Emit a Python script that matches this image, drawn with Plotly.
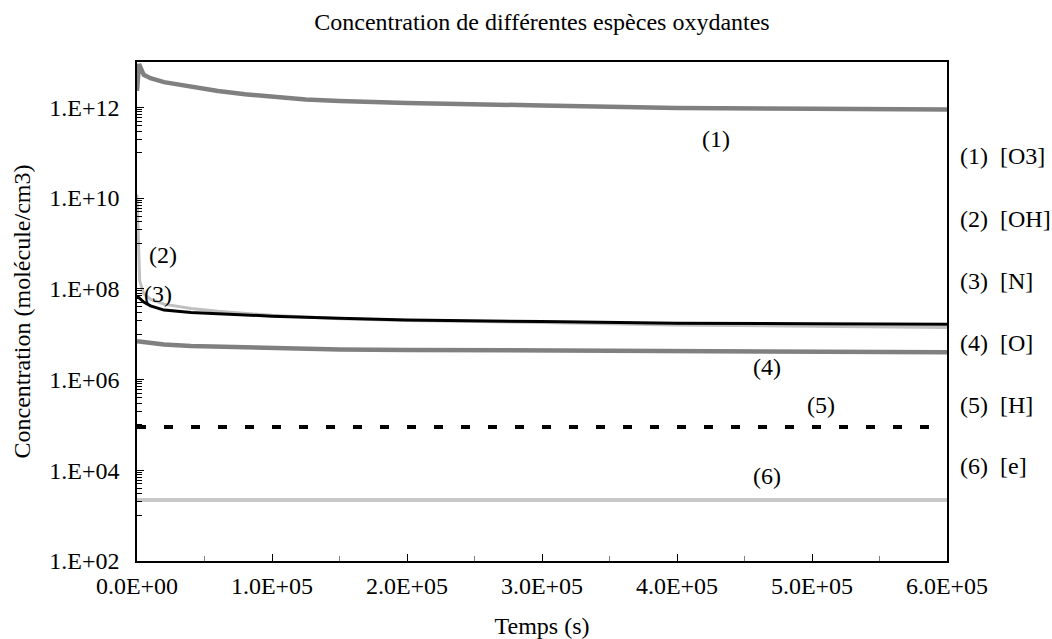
import plotly.graph_objects as go

# ---- data ----
t_o3 = [0, 1500, 5000, 10000, 20000, 40000, 60000, 80000, 100000, 125000, 150000, 200000, 300000, 400000, 500000, 600000]
o3 = [2.3e12, 9.0e12, 5.2e12, 4.4e12, 3.6e12, 2.8e12, 2.3e12, 1.95e12, 1.7e12, 1.5e12, 1.38e12, 1.25e12, 1.1e12, 0.97e12, 0.93e12, 0.9e12]

t_oh = [0, 1000, 2000, 5000, 10000, 20000, 40000, 60000, 100000, 150000, 200000, 300000, 400000, 500000, 600000]
oh = [1.2e10, 6.0e8, 1.5e8, 7.7e7, 5.9e7, 4.6e7, 3.7e7, 3.2e7, 2.6e7, 2.2e7, 2.0e7, 1.8e7, 1.6e7, 1.5e7, 1.4e7]

t_n = [0, 5000, 10000, 20000, 40000, 60000, 100000, 150000, 200000, 300000, 400000, 500000, 600000]
n = [7.0e7, 5.1e7, 4.2e7, 3.4e7, 3.0e7, 2.8e7, 2.5e7, 2.25e7, 2.05e7, 1.9e7, 1.75e7, 1.7e7, 1.65e7]

t_o = [0, 10000, 20000, 40000, 60000, 100000, 150000, 200000, 300000, 400000, 500000, 600000]
o = [7.0e6, 6.3e6, 5.9e6, 5.5e6, 5.3e6, 5.0e6, 4.6e6, 4.5e6, 4.4e6, 4.2e6, 4.2e6, 4.0e6]

t_const = [0, 600000]
h = [9.0e4, 9.0e4]
e = [2.2e3, 2.2e3]

x_tickvals = [0, 100000, 200000, 300000, 400000, 500000, 600000]
x_ticktext = ["0.0E+00", "1.0E+05", "2.0E+05", "3.0E+05", "4.0E+05", "5.0E+05", "6.0E+05"]
y_tickvals = [1e2, 1e4, 1e6, 1e8, 1e10, 1e12]
y_ticktext = ["1.E+02", "1.E+04", "1.E+06", "1.E+08", "1.E+10", "1.E+12"]

curve_labels = ["(1)", "(2)", "(3)", "(4)", "(5)", "(6)"]
species = ["[O3]", "[OH]", "[N]", "[O]", "[H]", "[e]"]

FONT = "Liberation Serif, Times New Roman, serif"
FS = 24

fig = go.Figure()
fig.add_trace(go.Scatter(x=t_o3, y=o3, mode="lines", line=dict(color="#808080", width=4.5), name="[O3]"))
fig.add_trace(go.Scatter(x=t_oh, y=oh, mode="lines", line=dict(color="#c0c0c0", width=3), name="[OH]"))
fig.add_trace(go.Scatter(x=t_n, y=n, mode="lines", line=dict(color="#000000", width=3), name="[N]"))
fig.add_trace(go.Scatter(x=t_o, y=o, mode="lines", line=dict(color="#808080", width=4.5), name="[O]"))
fig.add_trace(go.Scatter(x=t_const, y=h, mode="lines", line=dict(color="#000000", width=4, dash="9px,18px"), name="[H]"))
fig.add_trace(go.Scatter(x=t_const, y=e, mode="lines", line=dict(color="#c8c8c8", width=4), name="[e]"))

# labels near curves (x in data units, y in log10 units)
label_pos = [(429000, 11.31), (19300, 8.75), (15600, 7.88), (467000, 6.27), (507000, 5.43), (467000, 3.88)]
for txt, (lx, ly) in zip(curve_labels, label_pos):
    fig.add_annotation(x=lx, y=ly, xref="x", yref="y", text=txt, showarrow=False,
                       font=dict(family=FONT, size=FS, color="black"))

# right-side key
key_y = [0.8116, 0.6854, 0.5611, 0.4369, 0.3126, 0.1904]
for lab, sp, ky in zip(curve_labels, species, key_y):
    fig.add_annotation(x=1.014, y=ky, xref="paper", yref="paper", xanchor="left", yanchor="middle",
                       text=lab + "\u00a0\u00a0" + sp, showarrow=False,
                       font=dict(family=FONT, size=FS, color="black"))

minor_y = []
for k in [3, 5, 7, 9, 11]:
    for m in range(1, 10):
        minor_y.append(m * 10 ** k)

fig.update_layout(
    width=1052, height=639,
    margin=dict(l=137, r=105, t=62, b=78),
    paper_bgcolor="white", plot_bgcolor="white",
    showlegend=False,
    font=dict(family=FONT, size=FS, color="black"),
    title=dict(text="Concentration de différentes espèces oxydantes", xref="paper", x=0.5, xanchor="center",
               y=0.9656, yanchor="middle", font=dict(family=FONT, size=FS, color="black")),
)
fig.update_xaxes(
    range=[0, 600000], tickmode="array", tickvals=x_tickvals, ticktext=x_ticktext,
    ticks="inside", ticklen=7, tickcolor="black", tickwidth=1,
    showline=True, linecolor="black", linewidth=1.5, mirror=True,
    showgrid=False, zeroline=False, automargin=False,
    minor=dict(dtick=50000, tick0=0, ticks="inside", ticklen=5, tickcolor="#808080", showgrid=False),
    title=dict(text="Temps (s)", font=dict(family=FONT, size=FS), standoff=20),
    tickfont=dict(family=FONT, size=FS), ticklabelstandoff=2,
)
fig.update_yaxes(
    type="log", range=[2, 13], tickmode="array", tickvals=y_tickvals, ticktext=y_ticktext,
    ticks="inside", ticklen=7, tickcolor="black", tickwidth=1,
    showline=True, linecolor="black", linewidth=1.5, mirror=True,
    showgrid=False, zeroline=False, automargin=False,
    minor=dict(tickmode="array", tickvals=minor_y, ticks="inside", ticklen=5, tickcolor="black", showgrid=False),
    title=dict(text="Concentration (molécule/cm3)", font=dict(family=FONT, size=FS), standoff=12),
    tickfont=dict(family=FONT, size=FS), ticklabelstandoff=11,
)

fig.write_html("out.html", config={"displayModeBar": False},
               post_script="document.body.style.margin='0';document.body.style.overflow='hidden';")
